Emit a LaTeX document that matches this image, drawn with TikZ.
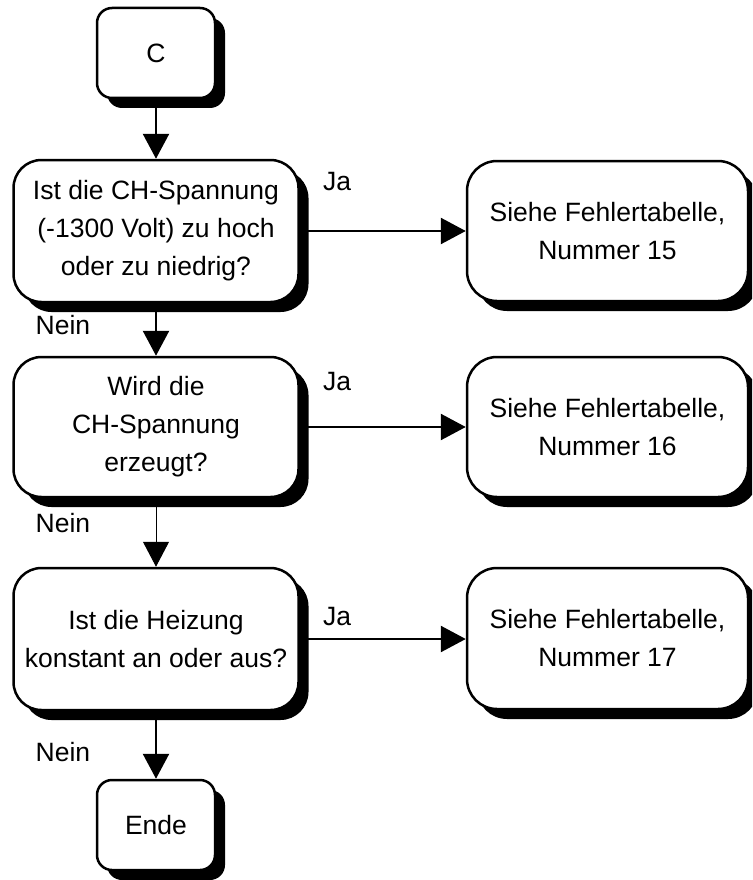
\documentclass[tikz,border=0pt]{standalone}
\usepackage{fontspec}
\setmainfont{Liberation Sans}
\usetikzlibrary{arrows.meta,shadows}
\tikzset{
  box/.style={draw=black, line width=2.5pt, fill=white, rounded corners=#1,
    align=center, inner sep=0pt,
    font=\fontsize{26.5}{38}\selectfont,
    drop shadow={shadow xshift=10pt, shadow yshift=-10pt, fill=black, opacity=1}},
  bigbox/.style={box=28pt, minimum width=285pt, minimum height=142pt},
  sidebox/.style={box=30pt, minimum width=281pt, minimum height=140pt},
  smallbox/.style={box=15pt, minimum width=118pt, minimum height=90pt},
  flow/.style={line width=2.5pt, -{Triangle[length=25pt,width=26pt]}},
  thinflow/.style={line width=1pt, -{Triangle[length=25pt,width=26pt]}},
  lbl/.style={font=\fontsize{26.5}{30}\selectfont, inner sep=0pt}
}
\begin{document}
\begin{tikzpicture}[x=1pt,y=-1pt]
\clip (0,0) rectangle (752,880);
\fill[white] (0,0) rectangle (752,880);

\node[smallbox] (c) at (156,53) {C};
\node[bigbox] (d1) at (156,231) {Ist die CH-Spannung\\(-1300 Volt) zu hoch\\oder zu niedrig?};
\node[sidebox] (r1) at (607.5,231) {Siehe Fehlertabelle,\\Nummer 15};
\node[bigbox, minimum height=140pt] (d2) at (156,427) {Wird die\\CH-Spannung\\erzeugt?};
\node[sidebox] (r2) at (607.5,427) {Siehe Fehlertabelle,\\Nummer 16};
\node[bigbox] (d3) at (156,639) {Ist die Heizung\\konstant an oder aus?};
\node[sidebox, minimum height=141pt] (r3) at (607.5,638.5) {Siehe Fehlertabelle,\\Nummer 17};
\node[smallbox] (e) at (156,825) {Ende};

\draw[flow] (c) -- (d1);
\draw[flow] (d1) -- (d2);
\draw[thinflow] (d2) -- (d3);
\draw[flow] (d3) -- (e);
\draw[flow] (d1) -- (r1);
\draw[flow] (d2) -- (r2);
\draw[flow] (d3.east) -- (d3.east -| r3.west);

\node[lbl] (ja1) at (337,182) {Ja};
\node[lbl] (ja2) at (337,382) {Ja};
\node[lbl] (ja3) at (337,617) {Ja};
\node[lbl] (n1) at (63,325) {Nein};
\node[lbl] (n2) at (63,523) {Nein};
\node[lbl] (n3) at (63,752) {Nein};
\end{tikzpicture}
\end{document}
